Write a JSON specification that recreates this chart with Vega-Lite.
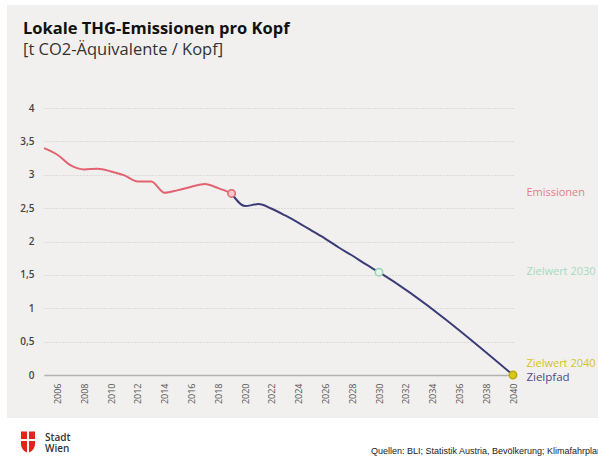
{
  "$schema": "https://vega.github.io/schema/vega-lite/v6.json",
  "width": 469,
  "height": 267,
  "autosize": {"type": "none"},
  "padding": {"left": 44, "top": 108, "right": 85, "bottom": 84},
  "background": "#f2f0ee",
  "config": {
    "view": {"stroke": null},
    "font": "Open Sans",
    "axis": {"labelFont": "Open Sans"},
    "text": {"font": "Open Sans"}
  },
  "resolve": {"scale": {"color": "independent"}},
  "datasets": {
    "series": [
      {"year": 2005, "value": 3.40, "series": "Emissionen"},
      {"year": 2006, "value": 3.30, "series": "Emissionen"},
      {"year": 2007, "value": 3.14, "series": "Emissionen"},
      {"year": 2008, "value": 3.08, "series": "Emissionen"},
      {"year": 2009, "value": 3.09, "series": "Emissionen"},
      {"year": 2010, "value": 3.05, "series": "Emissionen"},
      {"year": 2011, "value": 2.99, "series": "Emissionen"},
      {"year": 2012, "value": 2.90, "series": "Emissionen"},
      {"year": 2013, "value": 2.90, "series": "Emissionen"},
      {"year": 2014, "value": 2.73, "series": "Emissionen"},
      {"year": 2015, "value": 2.77, "series": "Emissionen"},
      {"year": 2016, "value": 2.82, "series": "Emissionen"},
      {"year": 2017, "value": 2.86, "series": "Emissionen"},
      {"year": 2018, "value": 2.80, "series": "Emissionen"},
      {"year": 2019, "value": 2.72, "series": "Emissionen"},
      {"year": 2019, "value": 2.72, "series": "Zielpfad"},
      {"year": 2020, "value": 2.53, "series": "Zielpfad"},
      {"year": 2021, "value": 2.56, "series": "Zielpfad"},
      {"year": 2022, "value": 2.49, "series": "Zielpfad"},
      {"year": 2023, "value": 2.39, "series": "Zielpfad"},
      {"year": 2024, "value": 2.28, "series": "Zielpfad"},
      {"year": 2025, "value": 2.16, "series": "Zielpfad"},
      {"year": 2026, "value": 2.04, "series": "Zielpfad"},
      {"year": 2027, "value": 1.91, "series": "Zielpfad"},
      {"year": 2028, "value": 1.79, "series": "Zielpfad"},
      {"year": 2029, "value": 1.66, "series": "Zielpfad"},
      {"year": 2030, "value": 1.54, "series": "Zielpfad"},
      {"year": 2040, "value": 0.00, "series": "Zielpfad"}
    ],
    "markers": [
      {"year": 2019, "value": 2.72, "kind": "Emissionen"},
      {"year": 2030, "value": 1.54, "kind": "Zielwert 2030"},
      {"year": 2040, "value": 0.00, "kind": "Zielwert 2040"}
    ],
    "labels": [
      {"label": "Emissionen", "value": 2.72},
      {"label": "Zielwert 2030", "value": 1.54},
      {"label": "Zielwert 2040", "value": 0.00},
      {"label": "Zielpfad", "value": 0.00}
    ],
    "one": [{}]
  },
  "layer": [
    {
      "data": {"name": "one"},
      "mark": {"type": "rect", "color": "#ffffff"},
      "encoding": {
        "x": {"value": -44}, "x2": {"value": 554},
        "y": {"value": 310}, "y2": {"value": 351}
      }
    },
    {
      "data": {"name": "one"},
      "mark": {"type": "rect", "color": "#ffffff"},
      "encoding": {
        "x": {"value": -44}, "x2": {"value": -37},
        "y": {"value": -108}, "y2": {"value": 310}
      }
    },
    {
      "data": {"name": "one"},
      "mark": {"type": "rect", "color": "#ffffff"},
      "encoding": {
        "x": {"value": -44}, "x2": {"value": 554},
        "y": {"value": -108}, "y2": {"value": -103}
      }
    },
    {
      "data": {"name": "series"},
      "mark": {"type": "line", "strokeWidth": 2, "interpolate": "monotone"},
      "encoding": {
        "x": {
          "field": "year", "type": "quantitative",
          "scale": {"domain": [2005, 2040], "nice": false, "zero": false},
          "axis": {
            "title": null,
            "values": [2006, 2008, 2010, 2012, 2014, 2016, 2018, 2020, 2022, 2024, 2026, 2028, 2030, 2032, 2034, 2036, 2038, 2040],
            "tickCount": 40,
            "format": "d",
            "labelAngle": -90,
            "labelFontSize": 9,
            "labelColor": "#555555",
            "labelPadding": 8,
            "labelOverlap": false,
            "labelBound": false,
            "labelFlush": false,
            "ticks": false,
            "grid": false,
            "domainColor": "#b3b1ae",
            "domainWidth": 1.5
          }
        },
        "y": {
          "field": "value", "type": "quantitative",
          "scale": {"domain": [0, 4], "nice": false},
          "axis": {
            "title": null,
            "values": [0, 0.5, 1, 1.5, 2, 2.5, 3, 3.5, 4],
            "tickCount": 20,
            "labelExpr": "replace(format(datum.value, '~g'), '.', ',')",
            "labelFontSize": 10,
            "labelFontWeight": 600,
            "labelColor": "#444444",
            "labelPadding": 10,
            "labelOverlap": false,
            "labelBound": false,
            "labelFlush": false,
            "ticks": false,
            "domain": false,
            "grid": true,
            "gridColor": "#c9c7c4",
            "gridDash": [1, 2],
            "gridWidth": 1
          }
        },
        "color": {
          "field": "series", "type": "nominal",
          "scale": {"domain": ["Emissionen", "Zielpfad"], "range": ["#e2626f", "#3b3b78"]},
          "legend": null
        }
      }
    },
    {
      "data": {"name": "markers"},
      "mark": {"type": "point", "filled": true, "size": 55, "strokeWidth": 1.5, "opacity": 1},
      "encoding": {
        "x": {"field": "year", "type": "quantitative"},
        "y": {"field": "value", "type": "quantitative"},
        "fill": {
          "field": "kind", "type": "nominal",
          "scale": {"domain": ["Emissionen", "Zielwert 2030", "Zielwert 2040"], "range": ["#f5c9cc", "#e6f4ec", "#d9c916"]},
          "legend": null
        },
        "stroke": {
          "field": "kind", "type": "nominal",
          "scale": {"domain": ["Emissionen", "Zielwert 2030", "Zielwert 2040"], "range": ["#e2626f", "#93d5b5", "#b9aa12"]},
          "legend": null
        }
      }
    },
    {
      "data": {"name": "labels"},
      "transform": [{"filter": "datum.label === 'Emissionen' || datum.label === 'Zielwert 2030'"}],
      "mark": {"type": "text", "align": "left", "baseline": "middle", "fontSize": 11},
      "encoding": {
        "x": {"datum": 2041},
        "y": {"field": "value", "type": "quantitative"},
        "text": {"field": "label"},
        "color": {
          "field": "label", "type": "nominal",
          "scale": {"domain": ["Emissionen", "Zielwert 2030"], "range": ["#e47d88", "#a3dbc2"]},
          "legend": null
        }
      }
    },
    {
      "data": {"name": "labels"},
      "transform": [{"filter": "datum.label === 'Zielwert 2040'"}],
      "mark": {"type": "text", "align": "left", "baseline": "middle", "fontSize": 11, "dy": -11},
      "encoding": {
        "x": {"datum": 2041},
        "y": {"field": "value", "type": "quantitative"},
        "text": {"field": "label"},
        "color": {
          "field": "label", "type": "nominal",
          "scale": {"domain": ["Zielwert 2040"], "range": ["#d2c41c"]},
          "legend": null
        }
      }
    },
    {
      "data": {"name": "labels"},
      "transform": [{"filter": "datum.label === 'Zielpfad'"}],
      "mark": {"type": "text", "align": "left", "baseline": "middle", "fontSize": 11.5, "dy": 3},
      "encoding": {
        "x": {"datum": 2041},
        "y": {"field": "value", "type": "quantitative"},
        "text": {"field": "label"},
        "color": {
          "field": "label", "type": "nominal",
          "scale": {"domain": ["Zielpfad"], "range": ["#4a4a8c"]},
          "legend": null
        }
      }
    },
    {
      "data": {"name": "one"},
      "mark": {"type": "text", "text": "Lokale THG-Emissionen pro Kopf", "align": "left", "baseline": "alphabetic", "fontSize": 16.5, "fontWeight": "bold", "color": "#111111"},
      "encoding": {"x": {"value": -21}, "y": {"value": -74}}
    },
    {
      "data": {"name": "one"},
      "mark": {"type": "text", "text": "[t CO2-Äquivalente / Kopf]", "align": "left", "baseline": "alphabetic", "fontSize": 16.5, "color": "#333333"},
      "encoding": {"x": {"value": -21}, "y": {"value": -53}}
    },
    {
      "data": {"name": "one"},
      "mark": {
        "type": "point", "filled": true, "color": "#e2231a", "opacity": 1, "size": 196,
        "shape": "M-1,-1.5H-0.14V-0.42H-1Z M0.14,-1.5H1V-0.42H0.14Z M-1,-0.14H-0.14V1.5C-0.6,1.3 -1,0.9 -1,0.2Z M0.14,-0.14H1V0.2C1,0.9 0.6,1.3 0.14,1.5Z"
      },
      "encoding": {"x": {"value": -16}, "y": {"value": 334}}
    },
    {
      "data": {"name": "one"},
      "mark": {"type": "text", "text": "Stadt", "align": "left", "baseline": "alphabetic", "fontSize": 10, "fontWeight": 600, "color": "#333333"},
      "encoding": {"x": {"value": 1}, "y": {"value": 332.5}}
    },
    {
      "data": {"name": "one"},
      "mark": {"type": "text", "text": "Wien", "align": "left", "baseline": "alphabetic", "fontSize": 10, "fontWeight": 600, "color": "#333333"},
      "encoding": {"x": {"value": 1}, "y": {"value": 344}}
    },
    {
      "data": {"name": "one"},
      "mark": {"type": "text", "text": "Quellen: BLI; Statistik Austria, Bevölkerung; Klimafahrplan", "align": "left", "baseline": "alphabetic", "fontSize": 9, "font": "Liberation Sans", "color": "#1a1a1a"},
      "encoding": {"x": {"value": 327}, "y": {"value": 345.5}}
    }
  ]
}
